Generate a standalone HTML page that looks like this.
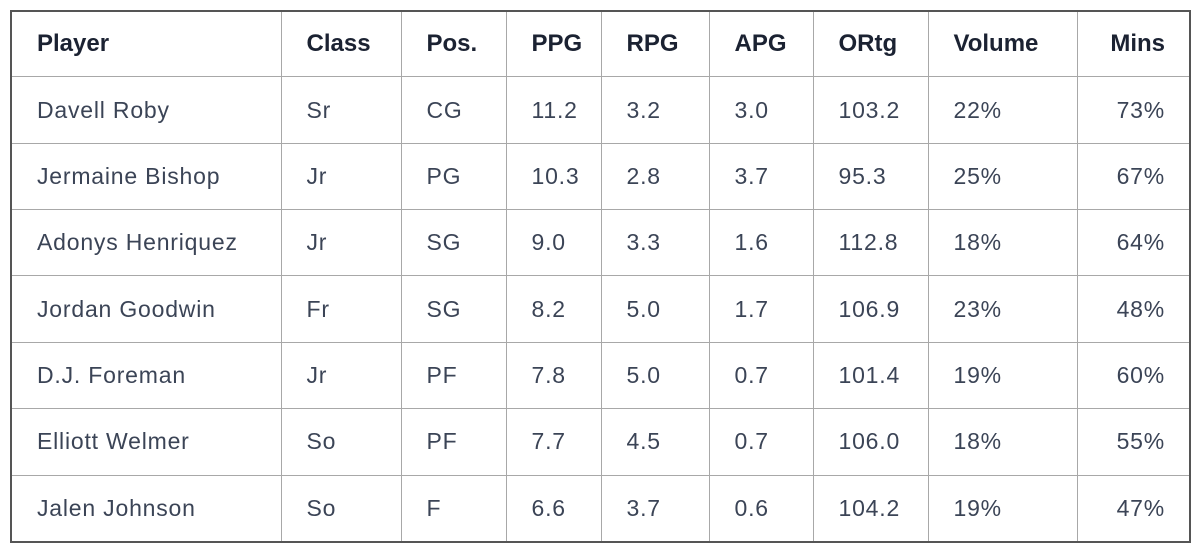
<!DOCTYPE html>
<html><head><style>
body{margin:0;background:#fff;width:1200px;height:551px;overflow:hidden;font-family:"Liberation Sans",sans-serif;}
table{position:absolute;left:10px;top:10px;border-collapse:collapse;width:1179px;height:533px;border:2px solid #555;table-layout:fixed;}
td,th{border:1.5px solid #a8a8a8;padding:0 0 0 25px;text-align:left;font-size:23px;color:#3b4456;font-weight:normal;letter-spacing:0.8px;}
th{font-weight:bold;color:#1b2232;height:64px;letter-spacing:0;font-size:24px;}
td{height:65px;}
.r{text-align:right;padding:0 24px 0 0;}
</style></head><body>
<table>
<colgroup><col style="width:270px"><col style="width:120px"><col style="width:105px"><col style="width:95px"><col style="width:108px"><col style="width:104px"><col style="width:115px"><col style="width:149px"><col style="width:113px"></colgroup>
<tr><th>Player</th><th>Class</th><th>Pos.</th><th>PPG</th><th>RPG</th><th>APG</th><th>ORtg</th><th>Volume</th><th class="r">Mins</th></tr>
<tr><td>Davell Roby</td><td>Sr</td><td>CG</td><td>11.2</td><td>3.2</td><td>3.0</td><td>103.2</td><td>22%</td><td class="r">73%</td></tr>
<tr><td>Jermaine Bishop</td><td>Jr</td><td>PG</td><td>10.3</td><td>2.8</td><td>3.7</td><td>95.3</td><td>25%</td><td class="r">67%</td></tr>
<tr><td>Adonys Henriquez</td><td>Jr</td><td>SG</td><td>9.0</td><td>3.3</td><td>1.6</td><td>112.8</td><td>18%</td><td class="r">64%</td></tr>
<tr><td>Jordan Goodwin</td><td>Fr</td><td>SG</td><td>8.2</td><td>5.0</td><td>1.7</td><td>106.9</td><td>23%</td><td class="r">48%</td></tr>
<tr><td>D.J. Foreman</td><td>Jr</td><td>PF</td><td>7.8</td><td>5.0</td><td>0.7</td><td>101.4</td><td>19%</td><td class="r">60%</td></tr>
<tr><td>Elliott Welmer</td><td>So</td><td>PF</td><td>7.7</td><td>4.5</td><td>0.7</td><td>106.0</td><td>18%</td><td class="r">55%</td></tr>
<tr><td>Jalen Johnson</td><td>So</td><td>F</td><td>6.6</td><td>3.7</td><td>0.6</td><td>104.2</td><td>19%</td><td class="r">47%</td></tr>
</table>
</body></html>
